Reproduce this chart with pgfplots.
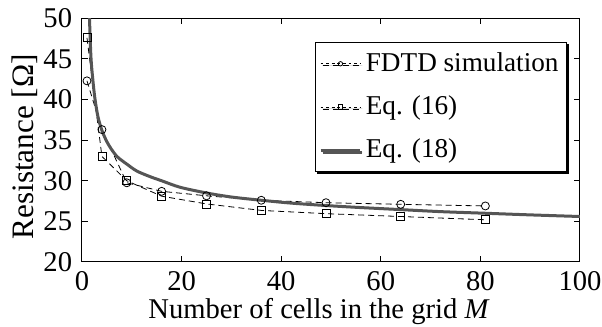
\documentclass[border=0pt]{standalone}
\usepackage{fontspec}
\setmainfont{Liberation Serif}
\usepackage{pgfplots}
\pgfplotsset{compat=1.18}
\usetikzlibrary{shadows}
\pgfplotsset{
  dashlegend/.style={legend image code/.code={\draw[##1, mark repeat=2, mark phase=2, mark size=1.1pt, dash pattern=on 1.4pt off 1.4pt] plot coordinates {(0cm,0cm) (0.35cm,0cm) (0.70cm,0cm)};}},
  solidlegend/.style={legend image code/.code={\draw[##1] (0cm,0cm) -- (0.70cm,0cm);}},
}
\begin{document}
\fontsize{14.3pt}{17pt}\selectfont
\begin{tikzpicture}
\begin{axis}[
  at={(0,0)}, anchor=south west,
  scale only axis,
  width=249pt, height=121.85pt,
  xmin=0, xmax=100, ymin=20, ymax=50,
  xtick={0,20,...,100}, ytick={20,25,...,50},
  tick align=inside, major tick length=3pt,
  axis line style={line width=0.5pt},
  every tick/.style={black, line width=0.5pt},
  /pgf/number format/assume math mode=true,
  tick label style={font=\fontsize{14.3pt}{17pt}\selectfont},
  xlabel={Number of cells in the grid \textit{M}},
  ylabel={Resistance [Ω]},
  xlabel style={font=\fontsize{14.3pt}{17pt}\selectfont, at={(axis description cs:0.476,-0.205)}, anchor=center},
  ylabel style={font=\fontsize{15.6pt}{18pt}\selectfont, at={(axis description cs:-0.1155,0.473)}, anchor=center},
  clip=true,
  legend style={at={(0.974,0.904)}, anchor=north east, draw=black, line width=0.5pt,
    font=\fontsize{13.6pt}{16pt}\selectfont, cells={anchor=west},
    inner xsep=2pt, inner ysep=3pt, row sep=6pt,
    drop shadow={shadow xshift=1pt, shadow yshift=-1pt, fill=black, opacity=1}},
]
\addplot[black, line width=0.4pt, dash pattern=on 3pt off 2pt, mark=o, mark size=2pt, mark options={solid}, dashlegend]
  coordinates {(1,42.3) (4,36.3) (9,29.75) (16,28.7) (25,28.15) (36,27.6) (49,27.3) (64,27.1) (81,26.9)};
\addlegendentry{FDTD simulation}
\addplot[black, line width=0.4pt, dash pattern=on 3pt off 2pt, mark=square, mark size=2pt, mark options={solid}, dashlegend]
  coordinates {(1,47.6) (4,33.0) (9,30.0) (16,28.1) (25,27.15) (36,26.35) (49,25.95) (64,25.6) (81,25.2)};
\addlegendentry{Eq. (16)}
\addplot[color={rgb,255:red,85;green,85;blue,85}, line width=1.5pt, smooth, tension=0.5, solidlegend]
  coordinates {(1.42,51.2) (1.5,50.0) (1.8,45.2) (2.2,42.3) (2.6,40.1) (3.2,37.9) (4,36.2) (5,34.8) (6,33.8) (7,33.0) (8,32.5) (9,32.05) (11,31.2) (13.7,30.5) (16,30.0) (19.7,29.2) (25,28.5) (30,28.0) (36,27.6) (42,27.25) (49,26.95) (56,26.7) (64,26.45) (72,26.2) (81,26.0) (90,25.8) (100,25.6)};
\addlegendentry{Eq. (18)}
\end{axis}
\pgfresetboundingbox
\path (-41pt,-32.5pt) rectangle (260pt,131pt);
\end{tikzpicture}
\end{document}
